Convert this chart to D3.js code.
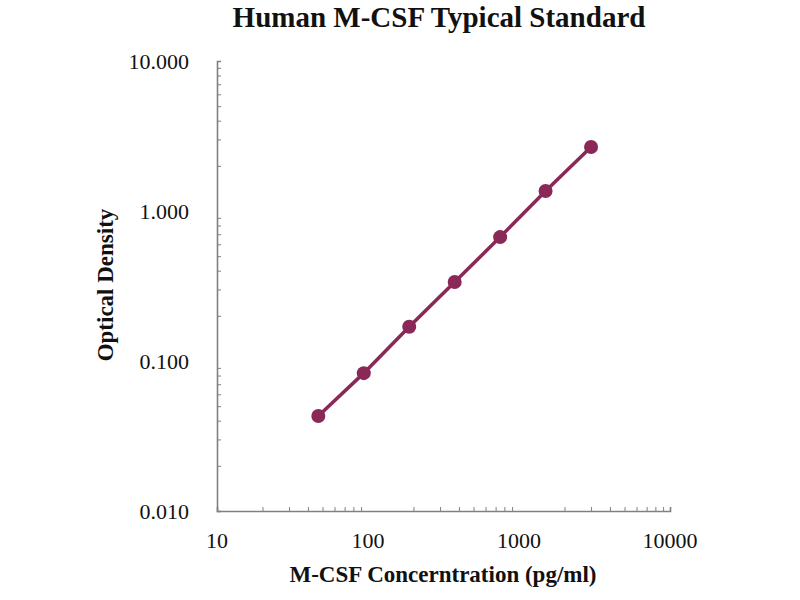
<!DOCTYPE html>
<html>
<head>
<meta charset="utf-8">
<script src="https://cdn.jsdelivr.net/npm/d3@7"></script>
<style>
  body { margin: 0; background: #fff; }
  text { font-family: "Liberation Serif", "Times New Roman", serif; fill: #111; }
</style>
</head>
<body>
<div class="svg-container"></div>
<script>
// standard curve data
const concentrations = [46.875, 93.75, 187.5, 375, 750, 1500, 3000];
const opticalDensity = [0.043, 0.083, 0.169, 0.336, 0.67, 1.36, 2.67];
const xTickValues = [10, 100, 1000, 10000];
const yTickValues = [0.01, 0.1, 1, 10];

const width = 800, height = 600;
const margin = { top: 61, right: 130, bottom: 89, left: 217 };

const svg = d3.select("div.svg-container").append("svg")
    .attr("width", width)
    .attr("height", height);

const x = d3.scaleLog().domain([10, 10000]).range([margin.left, width - margin.right]);
const y = d3.scaleLog().domain([0.01, 10]).range([height - margin.bottom, margin.top]);

const axisColor = "#808080";
const lineColor = "#8a2858";

// minor ticks inside the plot
function minorTicks(scale) {
    const out = [];
    const [a, b] = scale.domain();
    for (let p = Math.log10(a); p < Math.log10(b); p++) {
        for (let m = 2; m <= 9; m++) out.push(m * Math.pow(10, p));
    }
    return out;
}

const xAxisG = svg.append("g")
    .attr("transform", `translate(0, ${y(0.01)})`)
    .call(d3.axisTop(x).tickValues(minorTicks(x)).tickSize(4).tickFormat(""));
xAxisG.select(".domain").attr("stroke", axisColor).attr("stroke-width", 1.6);
xAxisG.selectAll(".tick line").attr("stroke", axisColor);

const yAxisG = svg.append("g")
    .attr("transform", `translate(${x(10)}, 0)`)
    .call(d3.axisRight(y).tickValues(minorTicks(y)).tickSize(4).tickFormat(""));
yAxisG.select(".domain").attr("stroke", axisColor).attr("stroke-width", 1.6);
yAxisG.selectAll(".tick line").attr("stroke", axisColor);

// major tick labels
svg.append("g").selectAll("text")
    .data(xTickValues)
    .join("text")
    .attr("x", d => x(d))
    .attr("y", 548)
    .attr("text-anchor", "middle")
    .attr("font-size", 22)
    .text(d => d);

svg.append("g").selectAll("text")
    .data(yTickValues)
    .join("text")
    .attr("x", 189)
    .attr("y", d => y(d) + 8)
    .attr("text-anchor", "end")
    .attr("font-size", 22)
    .text(d => d3.format(".3f")(d));

// curve
const line = d3.line()
    .x((d, i) => x(concentrations[i]))
    .y(d => y(d));

svg.append("path")
    .datum(opticalDensity)
    .attr("fill", "none")
    .attr("stroke", lineColor)
    .attr("stroke-width", 3.5)
    .attr("d", line);

svg.append("g").selectAll("circle")
    .data(opticalDensity)
    .join("circle")
    .attr("cx", (d, i) => x(concentrations[i]))
    .attr("cy", d => y(d))
    .attr("r", 7)
    .attr("fill", lineColor);

// titles
svg.append("text")
    .attr("x", 439)
    .attr("y", 27)
    .attr("text-anchor", "middle")
    .attr("font-size", 29)
    .attr("font-weight", "bold")
    .text("Human M-CSF Typical Standard");

svg.append("text")
    .attr("x", 443)
    .attr("y", 582)
    .attr("text-anchor", "middle")
    .attr("font-size", 23)
    .attr("font-weight", "bold")
    .text("M-CSF Concerntration (pg/ml)");

svg.append("text")
    .attr("transform", "translate(113, 285) rotate(-90)")
    .attr("text-anchor", "middle")
    .attr("font-size", 23)
    .attr("font-weight", "bold")
    .text("Optical Density");
</script>
</body>
</html>
